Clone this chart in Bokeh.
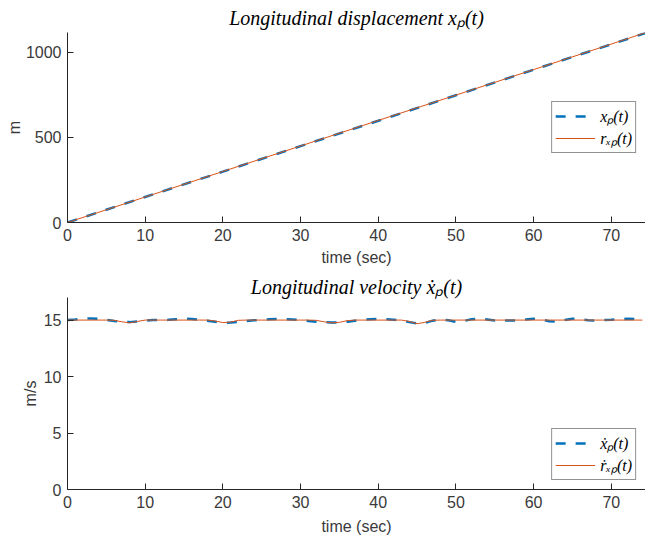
from bokeh.plotting import figure
from bokeh.layouts import column
from bokeh.models import Range1d, FixedTicker, Legend, LegendItem
from bokeh.embed import file_html
from bokeh.resources import INLINE

# ---------------- data ----------------
t_disp = [0, 10, 20, 30, 40, 50, 60, 70, 74.4]
x_disp = [0, 150, 299, 449, 598, 748, 898, 1048, 1114]
r_disp = [0, 150, 300, 450, 600, 749, 899, 1049, 1116]

t_vel = list(range(0, 75))
x_vel = [15.00, 15.05, 15.12, 15.15, 15.12, 15.03, 14.92, 14.84, 14.82, 14.88,
         14.96, 15.00, 15.00, 15.02, 15.08, 15.12, 15.10, 15.03, 14.95, 14.85,
         14.77, 14.78, 14.85, 14.92, 14.98, 15.02, 15.07, 15.10, 15.09, 15.05,
         15.00, 14.92, 14.85, 14.81, 14.79, 14.80, 14.86, 14.95, 15.02, 15.07,
         15.10, 15.08, 15.03, 14.95, 14.82, 14.70, 14.75, 14.95, 15.05, 14.98,
         14.85, 14.92, 15.08, 15.12, 15.05, 14.97, 14.95, 14.96, 14.97, 15.05,
         15.12, 15.05, 14.90, 14.85, 15.00, 15.12, 15.08, 14.98, 14.97, 15.00,
         15.03, 15.08, 15.12, 15.10, 15.05]
r_vel = [15.00, 15.00, 15.00, 15.00, 15.00, 15.00, 14.98, 14.85, 14.76, 14.88,
         15.00, 15.00, 15.00, 15.00, 15.00, 15.00, 15.00, 15.00, 15.00, 14.92,
         14.78, 14.82, 14.98, 15.00, 15.00, 15.00, 15.00, 15.00, 15.00, 15.00,
         15.00, 15.00, 14.98, 14.85, 14.76, 14.80, 14.95, 15.00, 15.00, 15.00,
         15.00, 15.00, 15.00, 15.00, 14.88, 14.68, 14.80, 14.98, 15.00, 15.00,
         15.00, 15.00, 15.00, 15.00, 15.00, 15.00, 15.00, 15.00, 15.00, 15.00,
         15.00, 15.00, 15.00, 15.00, 15.00, 15.00, 15.00, 15.00, 15.00, 15.00,
         15.00, 15.00, 15.00, 15.00, 15.00]

x_ticks = [0, 10, 20, 30, 40, 50, 60, 70]
y1_ticks = [0, 500, 1000]
y2_ticks = [0, 5, 10, 15]

BLUE = "#0072BD"
ORANGE = "#D95319"
AX = "#262626"
TXT = "#3a3a3a"
SANS = "Liberation Sans"
SERIF = "Liberation Serif"


def style(p, yticks, ylabel, ylabel_standoff, title_standoff, xlabel_standoff):
    p.outline_line_color = None
    p.xgrid.visible = False
    p.ygrid.visible = False
    p.xaxis.ticker = FixedTicker(ticks=x_ticks)
    p.yaxis.ticker = FixedTicker(ticks=yticks)
    p.xaxis.axis_label = "time (sec)"
    p.yaxis.axis_label = ylabel
    for ax in (p.xaxis, p.yaxis):
        ax.axis_line_color = AX
        ax.major_tick_line_color = AX
        ax.major_tick_in = 6
        ax.major_tick_out = 0
        ax.minor_tick_line_color = None
        ax.major_label_text_font = SANS
        ax.major_label_text_font_size = "16px"
        ax.major_label_text_color = TXT
        ax.axis_label_text_font = SANS
        ax.axis_label_text_font_size = "16px"
        ax.axis_label_text_font_style = "normal"
        ax.axis_label_text_color = TXT
    p.xaxis.major_label_standoff = 6
    p.xaxis.axis_label_standoff = xlabel_standoff
    p.yaxis.major_label_standoff = 6
    p.yaxis.axis_label_standoff = ylabel_standoff
    p.title.align = "center"
    p.title.text_font = SERIF
    p.title.text_font_style = "italic"
    p.title.text_font_size = "20px"
    p.title.text_color = "black"
    p.title.standoff = title_standoff


def legend(p, items, loc):
    lg = Legend(items=items, location=loc)
    lg.border_line_color = AX
    lg.border_line_width = 1
    lg.background_fill_color = "white"
    lg.background_fill_alpha = 1
    lg.padding = 3
    lg.spacing = -4
    lg.margin = 9
    lg.glyph_width = 40
    lg.glyph_height = 14
    lg.label_height = 14
    lg.label_standoff = 5
    lg.label_text_font = SERIF
    lg.label_text_font_style = "italic"
    lg.label_text_font_size = "16px"
    lg.label_text_color = "black"
    p.add_layout(lg)


p1 = figure(width=645, height=269, x_range=Range1d(0, 74.4), y_range=Range1d(0, 1117),
            output_backend="svg", toolbar_location=None,
            min_border_left=67, min_border_right=0, min_border_top=32, min_border_bottom=47,
            title="Longitudinal displacement xₚ(t)")
style(p1, y1_ticks, "m", 0, 8, 5)
l1 = p1.line(t_disp, x_disp, line_color=BLUE, line_width=2.5, line_dash="10 10")
l2 = p1.line(t_disp, r_disp, line_color=ORANGE, line_width=1)
legend(p1, [LegendItem(label="xₚ(t)", renderers=[l1]),
            LegendItem(label="rₓₚ(t)", renderers=[l2])], "right")

p2 = figure(width=645, height=270, x_range=Range1d(0, 74.4), y_range=Range1d(0, 17),
            output_backend="svg", toolbar_location=None,
            min_border_left=67, min_border_right=0, min_border_top=28, min_border_bottom=50,
            title="Longitudinal velocity ẋₚ(t)")
style(p2, y2_ticks, "m/s", 2, 0, 7)
l3 = p2.line(t_vel, x_vel, line_color=BLUE, line_width=2.5, line_dash="10 10")
l4 = p2.line(t_vel, r_vel, line_color=ORANGE, line_width=1)
legend(p2, [LegendItem(label="ẋₚ(t)", renderers=[l3]),
            LegendItem(label="ṙₓₚ(t)", renderers=[l4])], "bottom_right")

layout = column(p1, p2, spacing=0)
open("out.html", "w").write(file_html(layout, INLINE))
